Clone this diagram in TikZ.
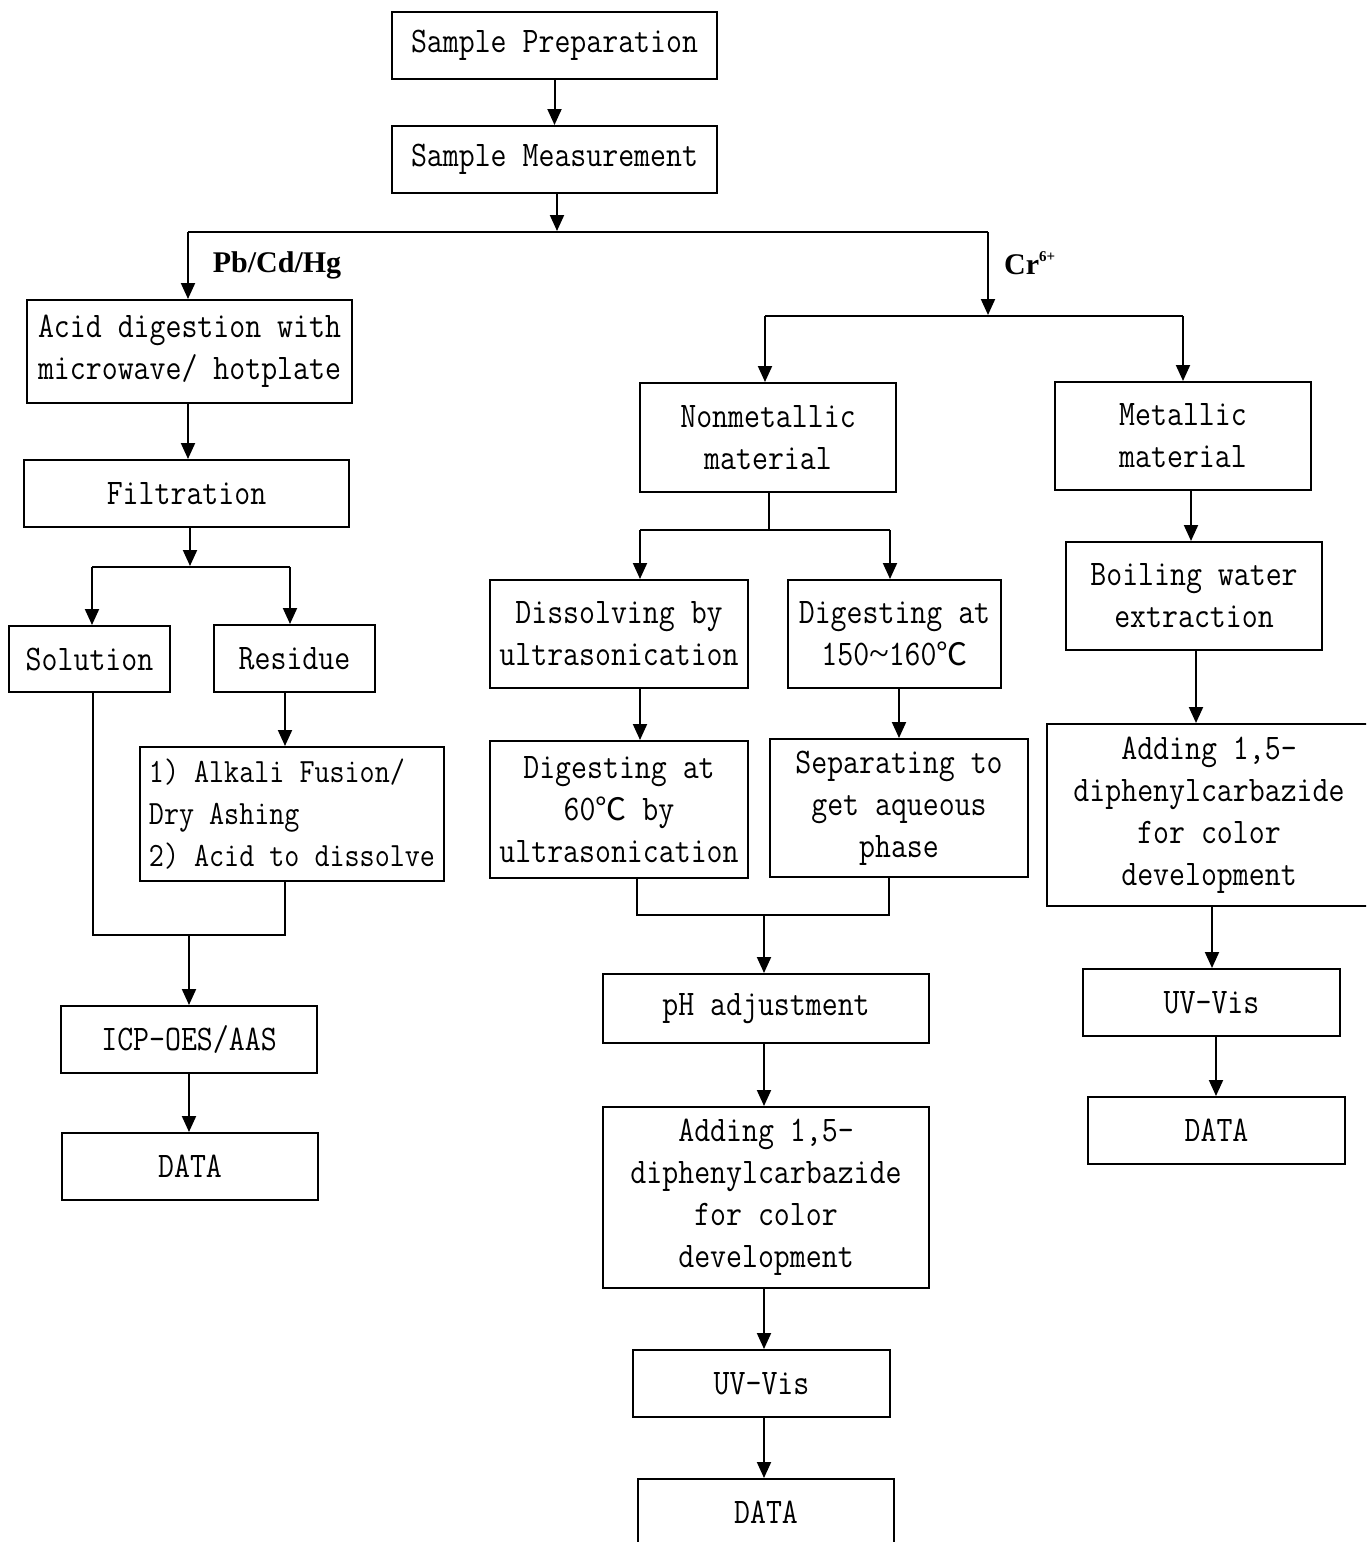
\documentclass[tikz,border=0pt]{standalone}
\usepackage{fontspec}
\setmonofont{Latin Modern Mono}[FakeStretch=0.86]
\newfontfamily\cjk{Noto Sans CJK SC}
\newfontfamily\lblfont{Liberation Serif}
\usetikzlibrary{arrows.meta}
\newcommand{\degc}{{\cjk\fontsize{31}{42}\selectfont ℃}}
\tikzset{
  box/.style={draw, line width=2pt, inner sep=0pt, align=center,
    font=\ttfamily\fontsize{36}{42}\selectfont, text=black},
  arr/.style={line width=2pt, -{Triangle[width=14pt,length=16pt]}},
  ln/.style={line width=2pt},
  lbl/.style={font=\lblfont\bfseries\fontsize{30}{34}\selectfont, inner sep=0pt, text=black}
}
\begin{document}
\begin{tikzpicture}[x=1pt,y=-1pt]
\fill[white] (0,0) rectangle (1366,1542);
\useasboundingbox (0,0) rectangle (1366,1542);
\begin{scope}
\clip (0,0) rectangle (1366,1542);
% top
\node[box, minimum width=325, minimum height=67] (prep) at (554.5,45.5) {Sample Preparation};
\node[box, minimum width=325, minimum height=67] (meas) at (554.5,159.5) {Sample Measurement};
% left branch
\node[box, minimum width=325, minimum height=103] (acid) at (189.5,351.5) {Acid digestion with\\microwave/ hotplate};
\node[box, minimum width=325, minimum height=67] (filt) at (186.5,493.5) {Filtration};
\node[box, minimum width=161, minimum height=66] (sol) at (89.5,659) {Solution};
\node[box, minimum width=161, minimum height=67] (res) at (294.5,658.5) {Residue};
\node[box, minimum width=304, minimum height=134, align=left, font=\ttfamily\fontsize{34}{42}\selectfont] (alk) at (292,814) {1) Alkali Fusion/\\Dry Ashing\\2) Acid to dissolve};
\node[box, minimum width=256, minimum height=67] (icp) at (189,1039.5) {ICP-OES/AAS};
\node[box, minimum width=256, minimum height=67] (data1) at (190,1166.5) {DATA};
% middle branch
\node[box, minimum width=256, minimum height=109] (nonm) at (768,437.5) {Nonmetallic\\material};
\node[box, minimum width=258, minimum height=108] (diss) at (619,634) {Dissolving by\\ultrasonication};
\node[box, minimum width=213, minimum height=108] (dig150) at (894.5,634) {Digesting at\\150{\lblfont\textasciitilde}160\degc};
\node[box, minimum width=258, minimum height=137] (dig60) at (619,809.5) {Digesting at\\60\degc\ by\\ultrasonication};
\node[box, minimum width=258, minimum height=138] (sep) at (899,808) {Separating to\\get aqueous\\phase};
\node[box, minimum width=326, minimum height=69] (ph) at (766,1008.5) {pH adjustment};
\node[box, minimum width=326, minimum height=181] (add1) at (766,1197.5) {Adding 1,5-\\diphenylcarbazide\\for color\\development};
\node[box, minimum width=257, minimum height=67] (uv1) at (761.5,1383.5) {UV-Vis};
\node[box, minimum width=256, minimum height=67] (data2) at (766,1512.5) {DATA};
% right branch
\node[box, minimum width=256, minimum height=108] (met) at (1183,436) {Metallic\\material};
\node[box, minimum width=256, minimum height=108] (boil) at (1194,596) {Boiling water\\extraction};
\node[box, minimum width=324, minimum height=182] (add2) at (1209,815) {Adding 1,5-\\diphenylcarbazide\\for color\\development};
\node[box, minimum width=257, minimum height=67] (uv2) at (1211.5,1002.5) {UV-Vis};
\node[box, minimum width=257, minimum height=67] (data3) at (1216.5,1130.5) {DATA};
% labels
\node[lbl] (lpb) at (277,265) {Pb/Cd/Hg};
\node[lbl, anchor=west] (lcr) at (1004,263) {Cr\raisebox{13pt}{\fontsize{15}{16}\selectfont 6+}};
% junction coordinates
\coordinate (j0) at (557,231);
\coordinate (jl) at (188,232);
\coordinate (jr) at (988,232);
\coordinate (k0) at (988,315);
\coordinate (k1) at (765,316);
\coordinate (k2) at (1183,316);
\coordinate (m0) at (190,566);
\coordinate (m1) at (92,567);
\coordinate (m2) at (290,567);
\coordinate (n0) at (189,935);
\coordinate (n1) at (93,935);
\coordinate (n2) at (285,935);
\coordinate (p0) at (769,530);
\coordinate (p1) at (640,530);
\coordinate (p2) at (890,530);
\coordinate (q0) at (764,915);
\coordinate (q1) at (637,915);
\coordinate (q2) at (889,915);
% connectors top
\draw[arr] (prep.south) -- (meas.north);
\draw[arr] (meas.south -| j0) -- (j0);
\draw[ln] (jl) -- (jr);
\draw[arr] (jl) -- (acid.north -| jl);
\draw[arr] (jr) -- (k0);
% left
\draw[arr] (acid.south -| jl) -- (filt.north -| jl);
\draw[arr] (filt.south -| m0) -- (m0);
\draw[ln] (m1) -- (m2);
\draw[arr] (m1) -- (sol.north -| m1);
\draw[arr] (m2) -- (res.north -| m2);
\draw[arr] (res.south -| n2) -- (alk.north -| n2);
\draw[ln] (sol.south -| n1) -- (n1) -- (n2) -- (alk.south -| n2);
\draw[arr] (n0) -- (icp.north -| n0);
\draw[arr] (icp.south -| n0) -- (data1.north -| n0);
% middle
\draw[ln] (k1) -- (k2);
\draw[arr] (k1) -- (nonm.north -| k1);
\draw[arr] (k2) -- (met.north -| k2);
\draw[ln] (nonm.south -| p0) -- (p0);
\draw[ln] (p1) -- (p2);
\draw[arr] (p1) -- (diss.north -| p1);
\draw[arr] (p2) -- (dig150.north -| p2);
\draw[arr] (diss.south -| p1) -- (dig60.north -| p1);
\draw[arr] (dig150.south -| sep.north) -- (sep.north);
\draw[ln] (dig60.south -| q1) -- (q1) -- (q2) -- (sep.south -| q2);
\draw[arr] (q0) -- (ph.north -| q0);
\draw[arr] (ph.south -| q0) -- (add1.north -| q0);
\draw[arr] (add1.south -| q0) -- (uv1.north -| q0);
\draw[arr] (uv1.south -| q0) -- (data2.north -| q0);
% right
\draw[arr] ([xshift=8pt]met.south) -- ([xshift=8pt]met.south |- boil.north);
\draw[arr] ([xshift=2pt]boil.south) -- ([xshift=2pt]boil.south |- add2.north);
\draw[arr] ([xshift=3pt]add2.south) -- ([xshift=3pt]add2.south |- uv2.north);
\draw[arr] ([xshift=4.5pt]uv2.south) -- ([xshift=4.5pt]uv2.south |- data3.north);
\end{scope}
\end{tikzpicture}
\end{document}
